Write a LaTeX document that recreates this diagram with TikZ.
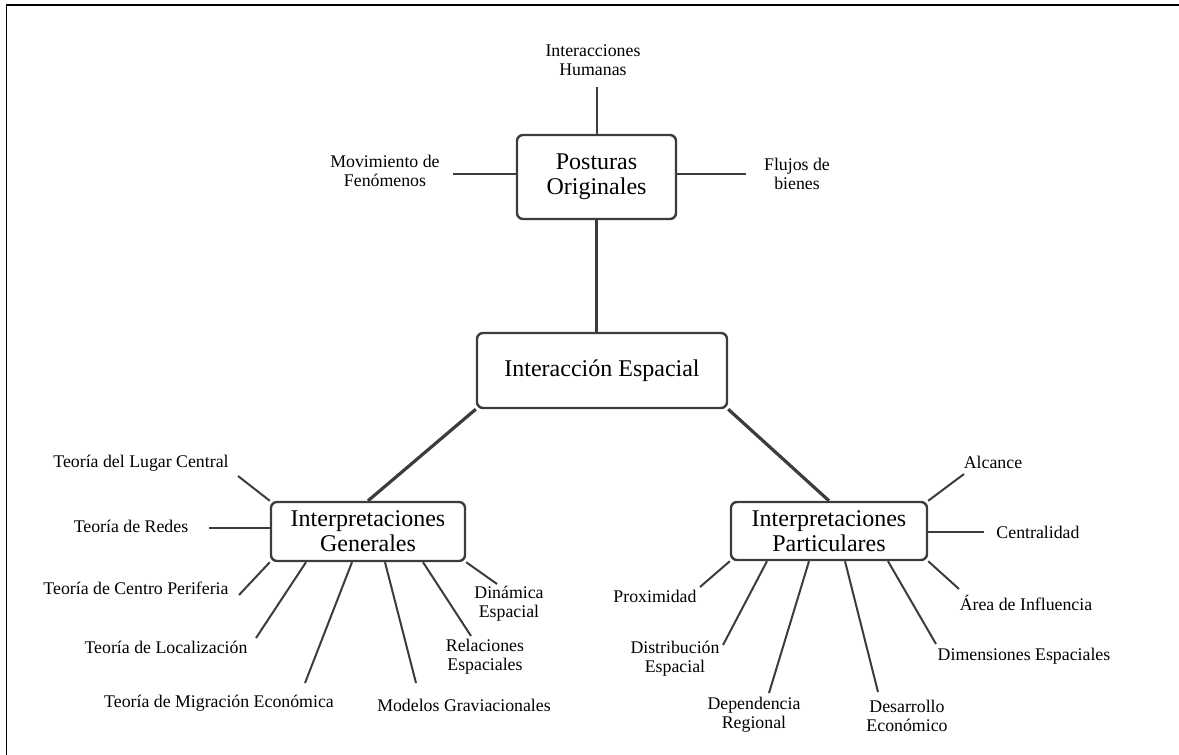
\documentclass[tikz,border=0pt]{standalone}
\usepackage{fontspec}
\setmainfont{Liberation Serif}
\usetikzlibrary{positioning}
\definecolor{ink}{HTML}{3C3C3C}
\newcommand{\boxfont}{\fontsize{12}{12.5}\selectfont}
\newcommand{\leaffont}{\fontsize{8.9}{9.5}\selectfont}
\tikzset{
    mainbox/.style={draw=ink, line width=1.2pt, rounded corners=3pt, align=center, font=\boxfont, inner sep=0pt},
    leaf/.style={align=center, font=\leaffont, inner sep=0pt},
    twig/.style={ink, line width=1pt},
    trunk/.style={ink, line width=1.6pt},
}
\begin{document}
\begin{tikzpicture}[x=0.5pt, y=-0.5pt]
    \useasboundingbox (0,0) rectangle (1179,755);
    \draw [line width=0.75pt] (6.5,755) -- (6.5,5) -- (1179,5);
    % boxes
    \node [mainbox, minimum width=79.5pt, minimum height=42pt] (post) at (596.5,177) {Posturas\\Originales};
    \node [mainbox, minimum width=125pt, minimum height=37.5pt] (inter) at (602,370.5) {Interacción Espacial};
    \node [mainbox, minimum width=97pt, minimum height=29.5pt] (gen) at (368,531.5) {Interpretaciones\\Generales};
    \node [mainbox, minimum width=98pt, minimum height=29pt] (part) at (829,531) {Interpretaciones\\Particulares};
    \draw [trunk] (post.south) -- (post.south |- inter.north);
    \draw [trunk] (inter.south west) -- (gen.north);
    \draw [trunk] (inter.south east) -- (part.north);
    % posturas
    \node [leaf] (hum) at (593,60) {Interacciones\\Humanas};
    \node [leaf] (mov) at (385,171) {Movimiento de\\Fenómenos};
    \node [leaf] (flu) at (797,174) {Flujos de\\bienes};
    \coordinate (hum-end) at (597,87);
    \coordinate (mov-end) at (453,174);
    \coordinate (flu-end) at (746,174);
    \draw [twig] (hum-end) -- (hum-end |- post.north);
    \draw [twig] (mov-end) -- (mov-end -| post.west);
    \draw [twig] (flu-end) -- (flu-end -| post.east);
    % generales
    \node [leaf] (lug) at (141,463) {Teoría del Lugar Central};
    \node [leaf] (red) at (131,526) {Teoría de Redes};
    \node [leaf] (cen) at (136,588) {Teoría de Centro Periferia};
    \node [leaf] (loc) at (166,647) {Teoría de Localización};
    \node [leaf] (mig) at (219,703) {Teoría de Migración Económica};
    \node [leaf] (mod) at (464,705) {Modelos Graviacionales};
    \node [leaf] (rel) at (485,657) {Relaciones\\Espaciales};
    \node [leaf] (din) at (509,604) {Dinámica\\Espacial};
    \coordinate (lug-end) at (238,476);
    \coordinate (red-end) at (209,528);
    \coordinate (cen-end) at (239,595);
    \coordinate (loc-end) at (256,638);
    \coordinate (mig-end) at (305,683);
    \coordinate (mod-end) at (416,683);
    \coordinate (rel-end) at (471,636);
    \coordinate (din-end) at (497,584);
    \draw [twig] (gen.north west) -- (lug-end);
    \draw [twig] (red-end) -- (red-end -| gen.west);
    \draw [twig] (gen.south west) -- (cen-end);
    \draw [twig] ([xshift=-31pt]gen.south) -- (loc-end);
    \draw [twig] ([xshift=-8pt]gen.south) -- (mig-end);
    \draw [twig] ([xshift=8.5pt]gen.south) -- (mod-end);
    \draw [twig] ([xshift=27.5pt]gen.south) -- (rel-end);
    \draw [twig] (gen.south east) -- (din-end);
    % particulares
    \node [leaf] (alc) at (993,462) {Alcance};
    \node [leaf] (ctr) at (1038,532) {Centralidad};
    \node [leaf] (are) at (1026,603) {Área de Influencia};
    \node [leaf] (dim) at (1024,656) {Dimensiones Espaciales};
    \node [leaf] (des) at (907,716) {Desarrollo\\Económico};
    \node [leaf] (dep) at (754,715) {Dependencia\\Regional};
    \node [leaf] (dis) at (675,659) {Distribución\\Espacial};
    \node [leaf] (pro) at (655,596) {Proximidad};
    \coordinate (alc-end) at (964,474);
    \coordinate (ctr-end) at (984,532);
    \coordinate (are-end) at (959,589);
    \coordinate (dim-end) at (936,644);
    \coordinate (des-end) at (878,692);
    \coordinate (dep-end) at (769,693);
    \coordinate (dis-end) at (723,645);
    \coordinate (pro-end) at (700,587);
    \draw [twig] (part.north east) -- (alc-end);
    \draw [twig] (ctr-end) -- (ctr-end -| part.east);
    \draw [twig] (part.south east) -- (are-end);
    \draw [twig] ([xshift=29.5pt]part.south) -- (dim-end);
    \draw [twig] ([xshift=8pt]part.south) -- (des-end);
    \draw [twig] ([xshift=-10pt]part.south) -- (dep-end);
    \draw [twig] ([xshift=-31pt]part.south) -- (dis-end);
    \draw [twig] (part.south west) -- (pro-end);
\end{tikzpicture}
\end{document}
